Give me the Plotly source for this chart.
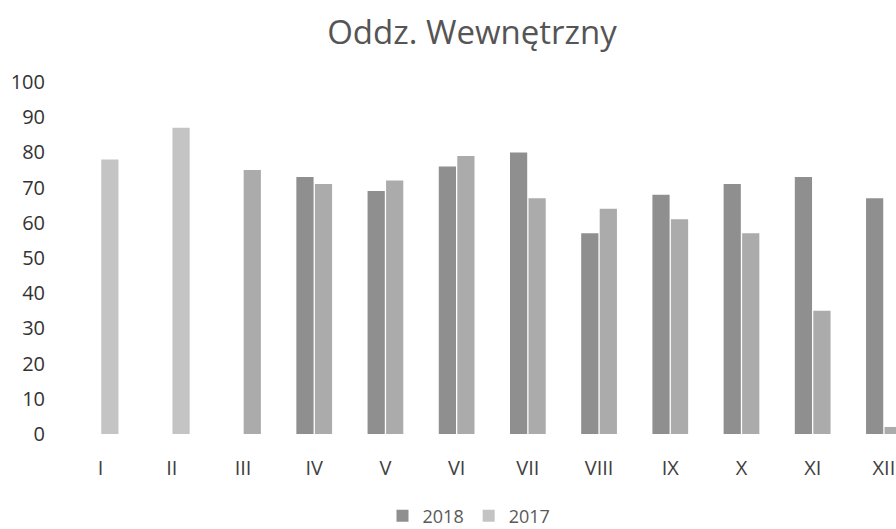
import plotly.graph_objects as go

months = ["I", "II", "III", "IV", "V", "VI", "VII", "VIII", "IX", "X", "XI", "XII"]
v2018 = [None, None, None, 73, 69, 76, 80, 57, 68, 71, 73, 67]
v2017 = [78, 87, 75, 71, 72, 79, 67, 64, 61, 57, 35, 2]
yticks = [0, 10, 20, 30, 40, 50, 60, 70, 80, 90, 100]

c2018 = "#8f8f8f"
c2017 = "#ababab"
c2017_bars = ["#c4c4c4", "#c4c4c4"] + [c2017] * 10

L, T, B = 65, 82, 95
W, H = 896, 529
PW, PH = W - L, H - T - B

fig = go.Figure()
fig.add_trace(go.Bar(name="2018", x=months, y=v2018, marker=dict(color=c2018, line=dict(width=0))))
fig.add_trace(go.Bar(name="2017", x=months, y=v2017, marker=dict(color=c2017_bars, line=dict(width=0))))

fig.update_layout(
    width=W, height=H,
    paper_bgcolor="white", plot_bgcolor="white",
    margin=dict(l=L, r=0, t=T, b=B, autoexpand=False),
    barmode="group", bargap=0.48, bargroupgap=0.07,
    font=dict(family="Open Sans", color="#404040"),
    title=dict(text="Oddz. Wewnętrzny", x=472 / W, xref="container", xanchor="center",
               y=1 - 32 / H, yref="container", yanchor="middle",
               font=dict(size=33, color="#555555", family="Open Sans")),
    showlegend=True,
    legend=dict(orientation="h", xref="paper", yref="paper",
                x=(469 - L) / PW, xanchor="center", y=(H - B - 516) / PH, yanchor="middle",
                font=dict(size=18, color="#595959"), itemwidth=30,
                tracegroupgap=0, traceorder="normal"),
    xaxis=dict(range=[-0.5, 11.17], showgrid=False, showline=False, zeroline=False, automargin=False,
               ticks="", tickfont=dict(size=20, color="#404040"), ticklabelstandoff=20),
    yaxis=dict(range=[0, 100], tickvals=yticks, showgrid=False, showline=False, zeroline=False,
               automargin=False,
               ticks="", tickfont=dict(size=20, color="#333333"), ticklabelstandoff=19),
)

fig.write_html("out.html", config={"displayModeBar": False},
               post_script="document.body.style.margin='0px';")
